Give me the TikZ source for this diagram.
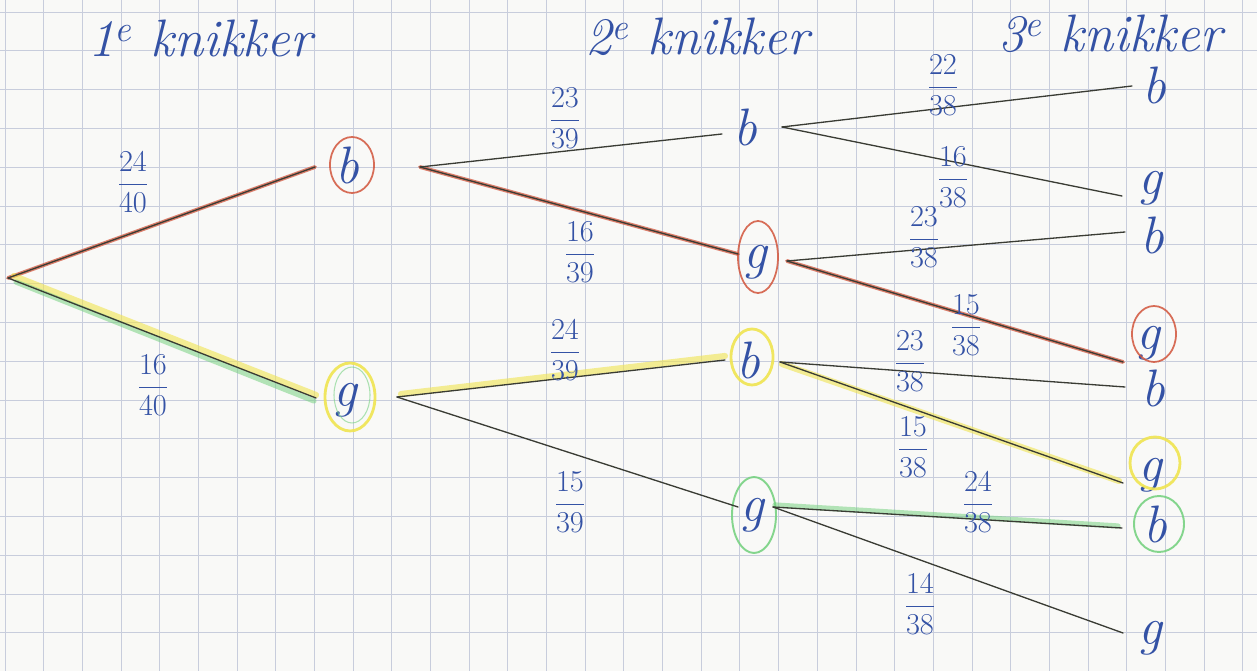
\documentclass[tikz,border=0pt]{standalone}
\usetikzlibrary{calc}
\definecolor{ink}{RGB}{52,82,165}
\definecolor{pen}{RGB}{58,60,52}
\definecolor{gridc}{RGB}{200,205,220}
\definecolor{paper}{RGB}{249,249,247}
\definecolor{hred}{RGB}{210,85,60}
\definecolor{hyel}{RGB}{240,228,80}
\definecolor{hgrn}{RGB}{120,210,130}
\tikzset{
  gridline/.style={draw=gridc, line width=0.5pt},
  branch/.style={draw=pen, line width=0.75pt, line cap=round},
  hlred/.style={draw=hred, line width=2.2pt, opacity=0.75, line cap=round},
  hlyel/.style={draw=hyel, line width=3.5pt, opacity=0.6, line cap=round},
  hlgrn/.style={draw=hgrn, line width=3pt, opacity=0.55, line cap=round},
  ringred/.style={draw=hred, line width=1pt, opacity=0.85},
  ringyel/.style={draw=hyel, line width=1.6pt, opacity=0.9},
  ringgrn/.style={draw=hgrn, line width=1.1pt, opacity=0.9},
  letter/.style={text=ink, font=\fontsize{30}{32}\selectfont\itshape, inner sep=0pt},
  prob/.style={text=ink, font=\fontsize{16}{19}\selectfont, inner sep=0pt},
  head/.style={text=ink, font=\fontsize{30}{34}\selectfont\itshape, inner sep=0pt, anchor=base west}
}
\begin{document}
\begin{tikzpicture}[x=0.02cm, y=-0.02cm]
\fill[paper] (0,0) rectangle (1257,671);
\useasboundingbox (0,0) rectangle (1257,671);
% grid
\foreach \i in {0,...,32} \draw[gridline] ({5+38.68*\i},0) -- ({5+38.68*\i},671);
\foreach \j in {0,...,17} \draw[gridline] (0,{12+38.8*\j}) -- (1257,{12+38.8*\j});

% headers
\node[head] (h1) at (88,57) {1\textsuperscript{e} knikker};
\node[head] (h2) at (585,55) {2\textsuperscript{e} knikker};
\node[head] (h3) at (998,52) {3\textsuperscript{e} knikker};

% letters (outcomes)
\node[letter] (b1) at (347,165) {b};
\node[letter] (g1) at (345,400) {g};
\node[letter] (b2a) at (745,127) {b};
\node[letter] (g2a) at (755,262) {g};
\node[letter] (b2b) at (748,360) {b};
\node[letter] (g2b) at (752,515) {g};
\node[letter] (b3a) at (1154,85) {b};
\node[letter] (g3a) at (1150,188) {g};
\node[letter] (b3b) at (1152,235) {b};
\node[letter] (g3b) at (1148,343) {g};
\node[letter] (b3c) at (1153,388) {b};
\node[letter] (g3c) at (1150,475) {g};
\node[letter] (b3d) at (1155,524) {b};
\node[letter] (g3d) at (1150,638) {g};

% rings
\draw[ringred] (352,165) ellipse [x radius=22, y radius=28];
\draw[ringyel] (350,397) ellipse [x radius=25, y radius=34];
\draw[hgrn, line width=0.6pt, opacity=0.6] (352,395) ellipse [x radius=18, y radius=28];
\draw[ringred] (758,257) ellipse [x radius=20, y radius=36];
\draw[ringyel] (752,357) ellipse [x radius=21, y radius=28];
\draw[ringgrn] (754,515) ellipse [x radius=22, y radius=38];
\draw[ringred] (1154,334) ellipse [x radius=22, y radius=28];
\draw[ringyel] (1155,463) ellipse [x radius=25, y radius=26];
\draw[ringgrn] (1159,524) ellipse [x radius=25, y radius=28];

% connection points
\coordinate (r) at (8,278);
\coordinate (b1i) at (315,167); \coordinate (b1o) at (420,167);
\coordinate (g1i) at (316,398); \coordinate (g1o) at (397,397);
\coordinate (b2ai) at (722,134); \coordinate (b2ao) at (782,127);
\coordinate (g2ai) at (738,254); \coordinate (g2ao) at (787,261);
\coordinate (b2bi) at (725,360); \coordinate (b2bo) at (780,362);
\coordinate (g2bi) at (738,507); \coordinate (g2bo) at (773,507);
\coordinate (b3ai) at (1132,86);
\coordinate (g3ai) at (1122,196);
\coordinate (b3bi) at (1125,232);
\coordinate (g3bi) at (1123,362);
\coordinate (b3ci) at (1125,387);
\coordinate (g3ci) at (1123,483);
\coordinate (b3di) at (1122,528);
\coordinate (g3di) at (1123,633);

% highlights
\draw[hlred] (r) -- (b1i);
\draw[hlred] (b1o) -- (g2ai);
\draw[hlred] (g2ao) -- (g3bi);
\draw[hlyel] ($(r)+(6,-2)$) -- ($(g1i)+(0,-3)$);
\draw[hlgrn] ($(r)+(8,4)$) -- ($(g1i)+(-2,3)$);
\draw[hlyel] ($(g1o)+(4,-3)$) -- ($(b2bi)+(0,-4)$);
\draw[hlyel] ($(b2bo)+(2,2)$) -- ($(g3ci)+(-4,-2)$);
\draw[hlgrn] ($(g2bo)+(2,-2)$) -- ($(b3di)+(-4,-2)$);

% branches
\draw[branch] (r) -- (b1i);
\draw[branch] (r) -- (g1i);
\draw[branch] (b1o) -- (b2ai);
\draw[branch] (b1o) -- (g2ai);
\draw[branch] (g1o) -- (b2bi);
\draw[branch] (g1o) -- (g2bi);
\draw[branch] (b2ao) -- (b3ai);
\draw[branch] (b2ao) -- (g3ai);
\draw[branch] (g2ao) -- (b3bi);
\draw[branch] (g2ao) -- (g3bi);
\draw[branch] (b2bo) -- (b3ci);
\draw[branch] (b2bo) -- (g3ci);
\draw[branch] (g2bo) -- (b3di);
\draw[branch] (g2bo) -- (g3di);

% probabilities
\node[prob] (p1) at (133,182) {$\displaystyle\frac{24}{40}$};
\node[prob] (p2) at (153,385) {$\displaystyle\frac{16}{40}$};
\node[prob] (p3) at (565,118) {$\displaystyle\frac{23}{39}$};
\node[prob] (p4) at (580,252) {$\displaystyle\frac{16}{39}$};
\node[prob] (p5) at (565,350) {$\displaystyle\frac{24}{39}$};
\node[prob] (p6) at (570,502) {$\displaystyle\frac{15}{39}$};
\node[prob] (p7) at (943,85) {$\displaystyle\frac{22}{38}$};
\node[prob] (p8) at (953,177) {$\displaystyle\frac{16}{38}$};
\node[prob] (p9) at (924,237) {$\displaystyle\frac{23}{38}$};
\node[prob] (p10) at (966,325) {$\displaystyle\frac{15}{38}$};
\node[prob] (p11) at (910,361) {$\displaystyle\frac{23}{38}$};
\node[prob] (p12) at (913,447) {$\displaystyle\frac{15}{38}$};
\node[prob] (p13) at (978,502) {$\displaystyle\frac{24}{38}$};
\node[prob] (p14) at (920,604) {$\displaystyle\frac{14}{38}$};
\end{tikzpicture}
\end{document}
